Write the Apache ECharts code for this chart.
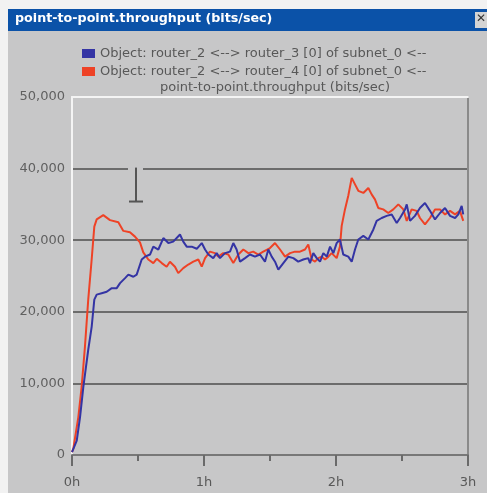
<!DOCTYPE html>
<html>
<head>
<meta charset="utf-8">
<script src="https://cdn.jsdelivr.net/npm/echarts@6/dist/echarts.min.js"></script>
<style>
html,body{margin:0;padding:0;background:#f4f4f4;}
#c{width:487px;height:493px;}
</style>
</head>
<body>
<div id="c"></div>
<script>
// ---- data (time in hours, throughput in bits/sec) ----
const windowTitle = 'point-to-point.throughput (bits/sec)';
const seriesNames = [
  'Object: router_2 <--> router_3 [0] of subnet_0 <--',
  'Object: router_2 <--> router_4 [0] of subnet_0 <--'
];
const statName = 'point-to-point.throughput (bits/sec)';
const xTickLabels = ['0h', '1h', '2h', '3h'];

const blueTime = [0, .010, .036, .061, .086, .123, .149, .169, .187, .225, .263, .301, .339, .364, .402, .427, .465, .490, .528, .553, .591, .616, .654, .692, .730, .767, .818, .843, .869, .907, .945, .983, 1.008, 1.033, 1.070, 1.096, 1.121, 1.159, 1.197, 1.222, 1.247, 1.273, 1.311, 1.348, 1.386, 1.424, 1.462, 1.487, 1.513, 1.538, 1.563, 1.601, 1.639, 1.677, 1.714, 1.752, 1.790, 1.803, 1.828, 1.854, 1.879, 1.904, 1.930, 1.955, 1.980, 2.005, 2.030, 2.055, 2.093, 2.119, 2.144, 2.169, 2.207, 2.245, 2.283, 2.308, 2.346, 2.384, 2.422, 2.460, 2.485, 2.523, 2.536, 2.561, 2.598, 2.636, 2.674, 2.712, 2.750, 2.788, 2.826, 2.864, 2.902, 2.927, 2.952, 2.964];
const blueValues = [400, 650, 2000, 5300, 9500, 14700, 17900, 21700, 22400, 22600, 22800, 23300, 23300, 24000, 24700, 25200, 24900, 25200, 27300, 27700, 28000, 29100, 28700, 30300, 29600, 29800, 30800, 29800, 29100, 29100, 28800, 29600, 28700, 28000, 27500, 28200, 27500, 28200, 28400, 29600, 28700, 27000, 27500, 28000, 27700, 28000, 27000, 28700, 27700, 27000, 25900, 26800, 27700, 27500, 27000, 27300, 27500, 26800, 28200, 27500, 27000, 28200, 27700, 29100, 28200, 29600, 30100, 28000, 27700, 27000, 28700, 30100, 30600, 30100, 31500, 32700, 33100, 33400, 33600, 32400, 33100, 34300, 35000, 32700, 33400, 34500, 35200, 34100, 32900, 33800, 34500, 33400, 33100, 33600, 34800, 33600];

const redTime = [0, .010, .048, .073, .098, .123, .149, .169, .187, .237, .288, .351, .389, .439, .477, .515, .540, .578, .616, .642, .680, .717, .742, .780, .805, .843, .881, .919, .957, .983, 1.008, 1.045, 1.083, 1.108, 1.146, 1.184, 1.222, 1.260, 1.298, 1.336, 1.373, 1.411, 1.449, 1.500, 1.538, 1.576, 1.614, 1.652, 1.689, 1.727, 1.765, 1.790, 1.816, 1.841, 1.866, 1.892, 1.917, 1.942, 1.967, 2.005, 2.030, 2.043, 2.068, 2.093, 2.119, 2.144, 2.169, 2.207, 2.245, 2.270, 2.295, 2.320, 2.358, 2.396, 2.434, 2.472, 2.510, 2.536, 2.573, 2.611, 2.636, 2.674, 2.712, 2.750, 2.788, 2.826, 2.864, 2.902, 2.939, 2.964];
const redValues = [400, 880, 5300, 9500, 15100, 21700, 27300, 31900, 32900, 33500, 32800, 32500, 31300, 31100, 30500, 29700, 28300, 27300, 26800, 27400, 26800, 26300, 27000, 26300, 25400, 26100, 26600, 27000, 27300, 26300, 27500, 28400, 28200, 27700, 28200, 28000, 26800, 28000, 28700, 28200, 28400, 28000, 28400, 28900, 29600, 28700, 27700, 28200, 28400, 28400, 28700, 29400, 27300, 27000, 27500, 27700, 27300, 27700, 28200, 27500, 29100, 32000, 34300, 36200, 38700, 37800, 36900, 36600, 37300, 36400, 35700, 34500, 34300, 33800, 34300, 35000, 34300, 32700, 34300, 34100, 33100, 32200, 33100, 34300, 34300, 33600, 34100, 33600, 34100, 32700];

const blueColor = '#3434a4';
const redColor = '#ee4226';
const bg = '#c7c7c8';

const chart = echarts.init(document.getElementById('c'), null, {renderer: 'canvas'});
const font = 'DejaVu Sans';

const option = {
  backgroundColor: bg,
  animation: false,
  textStyle: {fontFamily: font},
  title: [{
    text: statName,
    left: 270, top: 76, textAlign: 'center',
    textStyle: {fontFamily: font, fontSize: 13, fontWeight: 'normal', color: '#585858', lineHeight: 14}
  }],
  legend: {
    orient: 'vertical', left: 77, top: 42,
    itemWidth: 13, itemHeight: 9, itemGap: 5,
    icon: 'rect',
    textStyle: {fontFamily: font, fontSize: 13, color: '#585858', lineHeight: 13},
    data: seriesNames
  },
  grid: {left: 72, top: 97, width: 396, height: 358, show: false},
  xAxis: [{
    type: 'value', min: 0, max: 3, interval: 1,
    axisLine: {show: true, onZero: false, lineStyle: {color: '#787878', width: 2}},
    axisTick: {show: true, length: 11, lineStyle: {color: '#6a6a6a', width: 2}},
    minorTick: {show: true, splitNumber: 2, length: 6, lineStyle: {color: '#6a6a6a', width: 2}},
    axisLabel: {formatter: (v) => xTickLabels[Math.round(v)], color: '#585858', fontSize: 13, margin: 21, fontFamily: font},
    splitLine: {show: false}
  }, {
    type: 'value', min: 0, max: 3, position: 'top',
    axisLine: {show: true, onZero: false, lineStyle: {color: '#f4f4f4', width: 2}},
    axisTick: {show: false}, axisLabel: {show: false}, splitLine: {show: false}
  }],
  yAxis: [{
    type: 'value', min: 0, max: 50000, interval: 10000,
    axisLine: {show: true, onZero: false, lineStyle: {color: '#f4f4f4', width: 2}},
    axisTick: {show: false},
    axisLabel: {formatter: (v) => v.toLocaleString('en-US'), color: '#606060', fontSize: 13, margin: 7, fontFamily: font},
    splitLine: {show: true, showMinLine: false, showMaxLine: false, lineStyle: {color: '#6c6c6c', width: 2}}
  }, {
    type: 'value', min: 0, max: 50000, position: 'right',
    axisLine: {show: true, onZero: false, lineStyle: {color: '#8a8a8a', width: 2}},
    axisTick: {show: false}, axisLabel: {show: false}, splitLine: {show: false}
  }],
  series: [{
    name: seriesNames[0], type: 'line', symbol: 'none',
    lineStyle: {color: blueColor, width: 2}, itemStyle: {color: blueColor},
    data: blueTime.map((t, i) => [t, blueValues[i]]), z: 3
  }, {
    name: seriesNames[1], type: 'line', symbol: 'none',
    lineStyle: {color: redColor, width: 2}, itemStyle: {color: redColor},
    data: redTime.map((t, i) => [t, redValues[i]]), z: 2
  }],
  graphic: [
    {type: 'rect', left: 0, top: 0, shape: {width: 487, height: 9}, style: {fill: '#f2f2f2'}},
    {type: 'rect', left: 0, top: 0, shape: {width: 8, height: 493}, style: {fill: '#f2f2f2'}},
    {type: 'rect', left: 8, top: 9, shape: {width: 479, height: 22}, style: {fill: '#0b52a8'}},
    {type: 'text', left: 15, top: 12, style: {text: windowTitle, fill: '#ffffff', font: 'bold 12.7px "DejaVu Sans"'}},
    {type: 'rect', left: 475, top: 12, shape: {width: 12, height: 16}, style: {fill: '#d4d4d4'}},
    {type: 'text', left: 476, top: 13, style: {text: '✕', fill: '#333', font: 'bold 12px "DejaVu Sans"'}}
  ]
};
chart.setOption(option);

// I-beam mouse cursor present in the screenshot, placed through the axes
const cTop = chart.convertToPixel({gridIndex: 0}, [0.485, 40000]);
const cBot = chart.convertToPixel({gridIndex: 0}, [0.485, 35400]);
chart.setOption({graphic: option.graphic.concat([
  {type: 'line', shape: {x1: cTop[0] - 8, y1: cTop[1], x2: cTop[0] + 7, y2: cTop[1]}, style: {stroke: bg, lineWidth: 3}, z: 10},
  {type: 'line', shape: {x1: cTop[0], y1: cTop[1] - 1, x2: cBot[0], y2: cBot[1]}, style: {stroke: '#555', lineWidth: 2}, z: 10},
  {type: 'line', shape: {x1: cBot[0] - 7, y1: cBot[1], x2: cBot[0] + 7, y2: cBot[1]}, style: {stroke: '#555', lineWidth: 2}, z: 10}
])});
</script>
</body>
</html>
